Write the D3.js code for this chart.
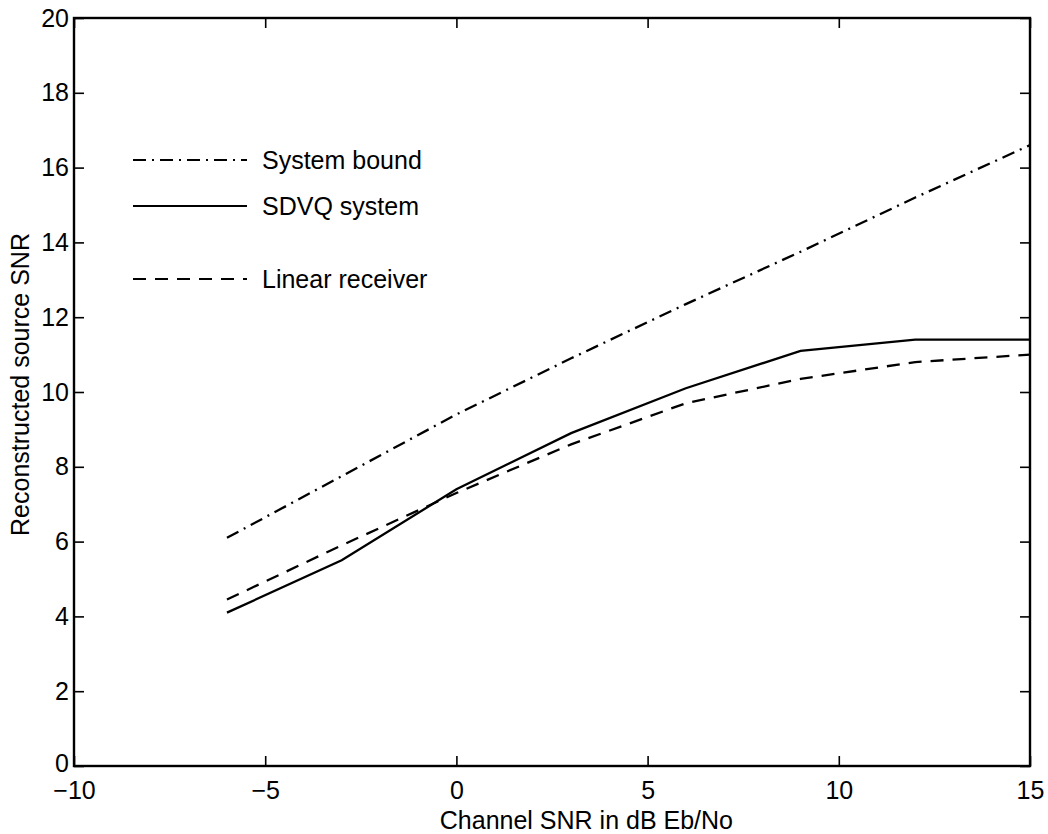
<!DOCTYPE html>
<html>
<head>
<meta charset="utf-8">
<script src="https://cdn.jsdelivr.net/npm/d3@7"></script>
<style>
  html, body { margin: 0; padding: 0; background: #fff; }
  svg text { font-family: "Liberation Sans", Arial, Helvetica, sans-serif; fill: #000; }
</style>
</head>
<body>
<svg id="chart" width="1048" height="834"></svg>
<script>
// Channel SNR (dB Eb/No) at which each curve is evaluated
const channelSNR = [-6, -3, 0, 3, 6, 9, 12, 15];
// Reconstructed source SNR for each system
const systemBound    = [6.1, 7.75, 9.4, 10.9, 12.35, 13.75, 15.2, 16.6];
const sdvqSystem     = [4.1, 5.5, 7.4, 8.9, 10.1, 11.1, 11.4, 11.4];
const linearReceiver = [4.45, 5.9, 7.3, 8.6, 9.7, 10.35, 10.8, 11.0];

const xTicks = [-10, -5, 0, 5, 10, 15];
const yTicks = [0, 2, 4, 6, 8, 10, 12, 14, 16, 18, 20];

const seriesNames = ["System bound", "SDVQ system", "Linear receiver"];
const seriesValues = [systemBound, sdvqSystem, linearReceiver];
const seriesDash = ["13,6,2,6", null, "13,9"];

const margin = { left: 74, right: 18, top: 18, bottom: 68 };
const W = 1048, H = 834;
const svg = d3.select("#chart");

const x = d3.scaleLinear().domain([-10, 15]).range([margin.left, W - margin.right]);
const y = d3.scaleLinear().domain([0, 20]).range([H - margin.bottom, margin.top]);

const tickLen = 10;
const tickFont = 25;
const labelFont = 25;

// Axes on all four sides, ticks pointing inward
const axBottom = d3.axisBottom(x).tickValues(xTicks).tickSizeInner(-tickLen).tickSizeOuter(0)
  .tickFormat(d => d < 0 ? "\u2212" + Math.abs(d) : d);
const axTop = d3.axisTop(x).tickValues(xTicks).tickSizeInner(-tickLen).tickSizeOuter(0).tickFormat("");
const axLeft = d3.axisLeft(y).tickValues(yTicks).tickSizeInner(-tickLen).tickSizeOuter(0).tickPadding(5);
const axRight = d3.axisRight(y).tickValues(yTicks).tickSizeInner(-tickLen).tickSizeOuter(0).tickFormat("");

function styleAxis(g) {
  g.select(".domain").remove();
  g.selectAll(".tick line").attr("stroke", "#000").attr("stroke-width", 1.6);
  g.selectAll("text").attr("font-size", tickFont)
    .style("font-family", '"Liberation Sans", Arial, sans-serif').attr("fill", "#000");
}

svg.append("g").attr("transform", `translate(0,${H - margin.bottom})`).call(axBottom).call(styleAxis)
  .selectAll("text").attr("y", 33).attr("dy", 0);
svg.append("g").attr("transform", `translate(0,${margin.top})`).call(axTop).call(styleAxis);
const leftAxis = svg.append("g").attr("transform", `translate(${margin.left},0)`).call(axLeft).call(styleAxis);
// keep the corner "0" clear of the "−10" below it
leftAxis.selectAll(".tick text").filter(d => d === 0).attr("dy", "0.2em");
svg.append("g").attr("transform", `translate(${W - margin.right},0)`).call(axRight).call(styleAxis);

// Plot frame
svg.append("rect")
  .attr("x", margin.left).attr("y", margin.top)
  .attr("width", W - margin.left - margin.right)
  .attr("height", H - margin.top - margin.bottom)
  .attr("fill", "none").attr("stroke", "#000").attr("stroke-width", 2.4);

// Curves
const line = d3.line().x(d => x(d[0])).y(d => y(d[1]));
seriesValues.forEach((vals, i) => {
  svg.append("path")
    .datum(channelSNR.map((c, j) => [c, vals[j]]))
    .attr("d", line)
    .attr("fill", "none")
    .attr("stroke", "#000")
    .attr("stroke-width", 2.3)
    .attr("stroke-dasharray", seriesDash[i]);
});

// Legend
const legendY = [160, 206, 279];
const lg = svg.append("g");
seriesNames.forEach((name, i) => {
  lg.append("line")
    .attr("x1", 133).attr("x2", 247)
    .attr("y1", legendY[i]).attr("y2", legendY[i])
    .attr("stroke", "#000").attr("stroke-width", 1.8)
    .attr("stroke-dasharray", seriesDash[i]);
  lg.append("text")
    .attr("x", 262).attr("y", legendY[i])
    .attr("dy", "0.35em")
    .attr("font-size", labelFont)
    .text(name);
});

// Axis titles
svg.append("text")
  .attr("x", x(3.4)).attr("y", 829)
  .attr("text-anchor", "middle")
  .attr("font-size", labelFont)
  .text("Channel SNR in dB Eb/No");

svg.append("text")
  .attr("transform", `translate(29,${y(10.2)}) rotate(-90)`)
  .attr("text-anchor", "middle")
  .attr("font-size", labelFont)
  .text("Reconstructed source SNR");
</script>
</body>
</html>
